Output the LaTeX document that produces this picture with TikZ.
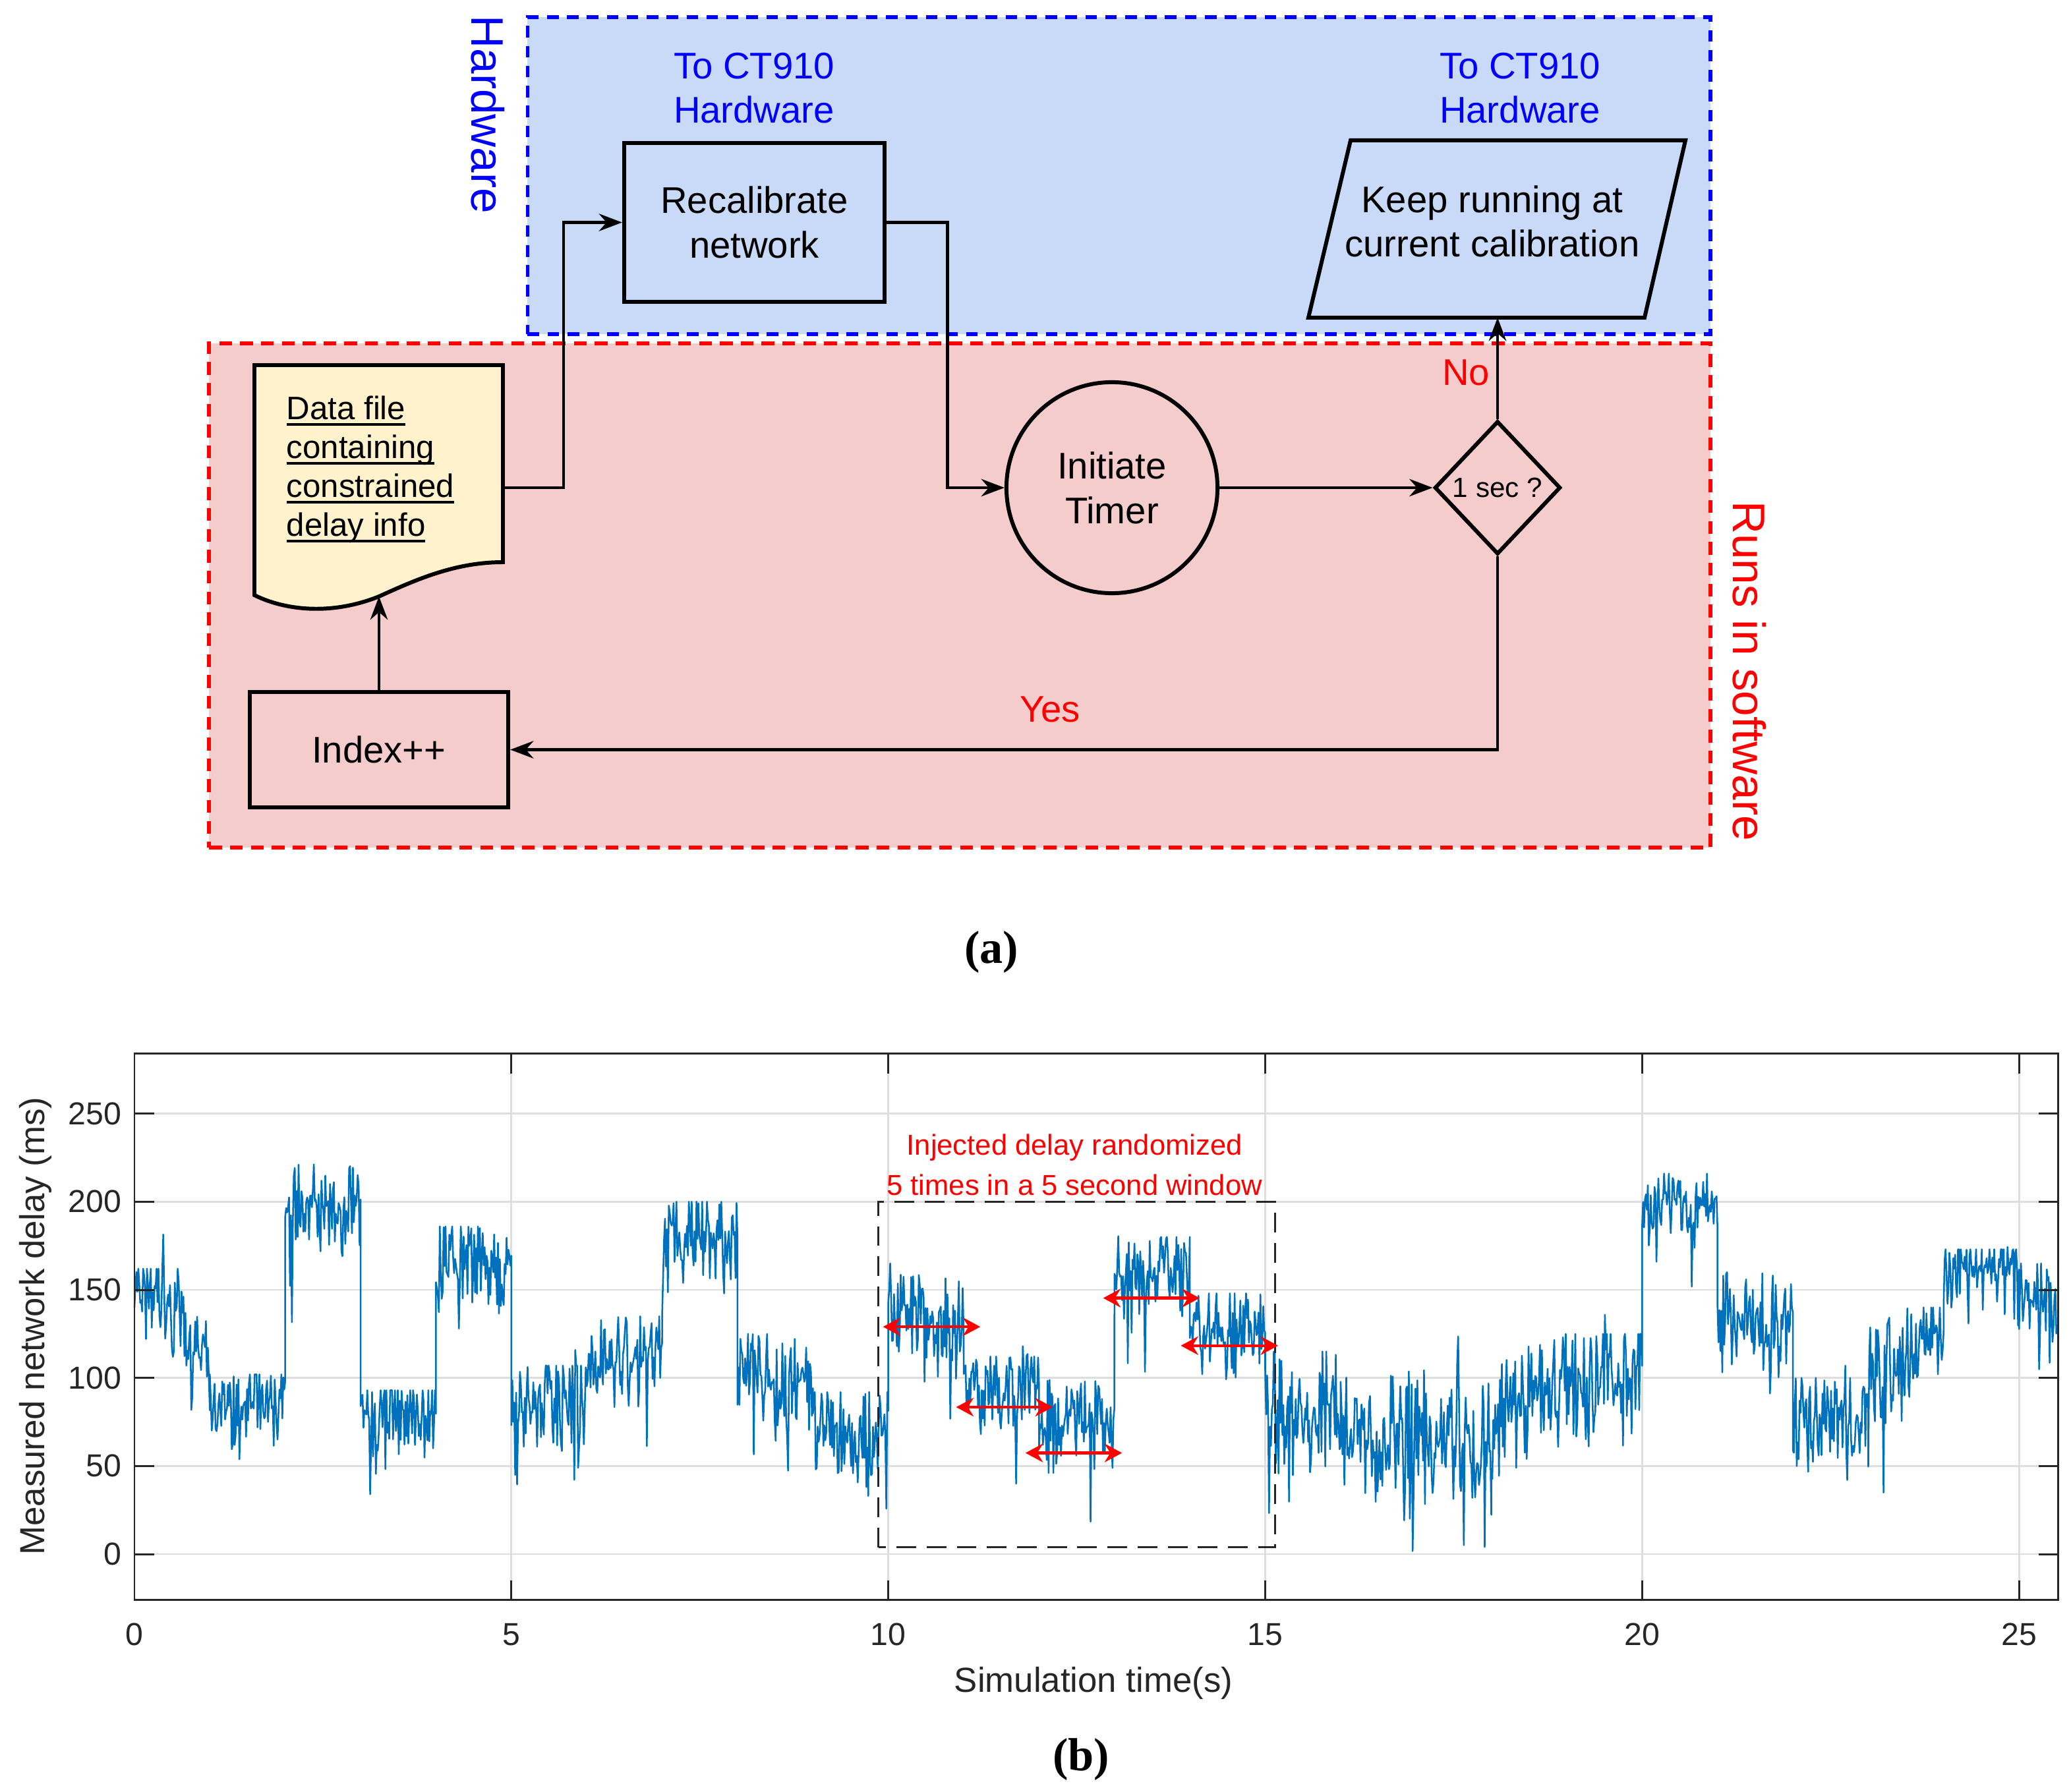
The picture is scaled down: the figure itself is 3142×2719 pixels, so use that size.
\documentclass[tikz,border=0pt]{standalone}
\usepackage{fontspec}
\setmainfont{Liberation Sans}
\newfontfamily\serifcap{Liberation Serif}
\usetikzlibrary{arrows.meta,shapes.geometric}
\definecolor{hwfill}{HTML}{C9DAF8}
\definecolor{swfill}{HTML}{F4CCCC}
\definecolor{docfill}{HTML}{FFF2CC}
\definecolor{hwblue}{HTML}{0000FF}
\definecolor{swred}{HTML}{FF0000}
\definecolor{gridgray}{RGB}{222,222,222}
\definecolor{axgray}{RGB}{38,38,38}
\definecolor{sigblue}{RGB}{0,114,189}
\newcommand\ulx[1]{\setbox0\hbox{#1}\rlap{\rule[-2.8pt]{\wd0}{1.2pt}}\box0}
\begin{document}
\begin{tikzpicture}[x=0.01cm,y=-0.01cm,
  every node/.style={inner sep=0pt},
  region/.style={line width=1.7pt},
  box/.style={draw=black,line width=1.7pt,align=center,font={\fontsize{16}{19.3}\selectfont}},
  lab/.style={align=center,font={\fontsize{16}{19.1}\selectfont}},
  conn/.style={line width=1.4pt,-{Stealth[length=10pt,width=7.5pt]}},
  gridline/.style={gridgray,line width=0.8pt},
  axisline/.style={axgray,line width=0.85pt},
  ticklab/.style={text=axgray,font={\fontsize{13.7}{16}\selectfont}},
  axlab/.style={text=axgray,font={\fontsize{15}{18}\selectfont}},
  redarrow/.style={swred,line width=1.2pt,{Stealth[length=7.5pt,width=8pt]}-{Stealth[length=7.5pt,width=8pt]}},
  sig/.style={sigblue,line width=0.72pt,line join=round}]
\useasboundingbox (0,0) rectangle (3142,2719);
% ---------- regions ----------
\node[region,draw=hwblue,fill=hwfill,dash pattern=on 5pt off 3.6pt,minimum width=17.93cm,minimum height=4.81cm] (hw) at (1697.5,266.5) {};
\node[region,draw=swred,fill=swfill,dash pattern=on 5.5pt off 3.5pt,minimum width=22.76cm,minimum height=7.65cm] (sw) at (1456,903.5) {};
\node[rotate=-90,text=hwblue,font={\fontsize{19.7}{23}\selectfont}] (hwlab) at (740,174) {Hardware};
\node[rotate=-90,text=swred,font={\fontsize{19.7}{23}\selectfont}] (swlab) at (2654,1018) {Runs in software};
% ---------- labels ----------
\node[lab,text=hwblue] (to1) at (1144,134) {To CT910\\Hardware};
\node[lab,text=hwblue] (to2) at (2306,134) {To CT910\\Hardware};
\node[lab,text=swred] (no) at (2224,565) {No};
\node[lab,text=swred] (yes) at (1593,1076) {Yes};
% ---------- flow nodes ----------
\node[box,fill=hwfill,minimum width=3.95cm,minimum height=2.41cm] (rec) at (1144.5,337.5) {Recalibrate\\network};
\draw[line width=1.7pt,fill=hwfill] (1985,482) -- (2049,213) -- (2557,213) -- (2495,482) -- cycle;
\node[lab] (keep) at (2264,336) {Keep running at\\current calibration};
\coordinate (keepin) at (2272,482);
\draw[line width=1.7pt,fill=docfill] (386,554) -- (763,554) -- (763,853) .. controls (690,853) and (630,880) .. (575,905) .. controls (500,935) and (430,925) .. (386,903) -- cycle;
\node[align=left,anchor=north west,font={\fontsize{14}{16.8}\selectfont}] (dft) at (434,600) {\ulx{Data file}\\\ulx{containing}\\\ulx{constrained}\\\ulx{delay info}};
\coordinate (dfout) at (763,740);
\coordinate (dfin) at (575,905);
\node[box,circle,fill=swfill,minimum size=3.2cm] (timer) at (1687,740) {Initiate\\Timer};
\node[box,diamond,fill=swfill,minimum width=1.91cm,minimum height=2.02cm,font={\fontsize{12}{14}\selectfont}] (dec) at (2272,740) {1 sec ?};
\node[box,fill=swfill,minimum width=3.92cm,minimum height=1.75cm] (idx) at (575,1137.5) {Index++};
% ---------- connectors ----------
\draw[conn] (dfout) -- ++(92,0) |- (rec.west);
\draw[conn] (rec.east) -- ++(92,0) |- (timer.west);
\draw[conn] (timer.east) -- (dec.west);
\draw[conn] (dec.north) -- (keepin);
\draw[conn] (dec.south) |- (idx.east);
\draw[conn] (idx.north) -- (dfin);
% ---------- captions ----------
\node[font={\serifcap\bfseries\fontsize{20}{24}\selectfont}] (capa) at (1504,1445) {(a)};
\node[font={\serifcap\bfseries\fontsize{20}{24}\selectfont}] (capb) at (1640,2670) {(b)};
% ---------- chart ----------
\node[axlab,anchor=base] (xlab) at (1659,2567) {Simulation time(s)};
\node[axlab,rotate=90] (ylab) at (54,2012) {Measured network delay (ms)};
\begin{scope}[shift={(204,2358)},x=1.143cm,y=0.02672cm]
  \foreach \t in {5,10,...,25} \draw[gridline] (\t,-26) -- (\t,284);
  \foreach \v in {0,50,...,250} \draw[gridline] (0,\v) -- (25.52,\v);
  \pgfmathsetseed{11}
  \draw[sig] (0,140) \foreach \a/\b/\m/\n/\s/\c/\N in {
    0/0.65/145/140/17/162/52, 0.65/1/128/118/16/145/28, 1/2/86/85/14/102/80,
    2/3/195/198/17/222/80, 3/4/78/78/14/93/80, 4/5/165/165/17/186/80,
    5/6/82/88/18/107/80, 6/7/100/118/17/135/80, 7/8/180/180/15/200/80,
    8/9/105/95/18/125/80, 9/10/72/68/17/92/80, 10/11/135/130/18/165/80,
    11/12/95/98/16/118/80, 12/13/74/72/18/100/80, 13/14/158/160/15/180/80,
    14/15/130/128/16/148/80, 15/16/85/80/21/115/80, 16/18/68/65/22/108/160,
    18/19/75/95/22/125/80, 19/20/95/108/20/125/80, 20/21/200/200/12/216/80,
    21/22/130/132/18/160/80, 22/23/80/78/18/100/80, 23/24/100/128/20/140/80,
    24/25/158/160/12/173/80, 25/25.52/148/140/17/165/42}
    { -- plot[domain=\a:\b,samples=\N] (\x,{min(\c,\m+(\n-\m)*(\x-\a)/(\b-\a)+\s*(rand+rand))-(rnd<0.09)*2.6*\s*rnd+(rnd<0.02)*1.3*\s*rnd}) };
  \draw[axgray,line width=0.9pt,dash pattern=on 8.5pt off 4.5pt] (9.87,3.9) rectangle (15.13,200);
  \draw[redarrow] (9.93,129) -- (11.22,129);
  \draw[redarrow] (10.9,83.4) -- (12.18,83.4);
  \draw[redarrow] (11.82,57.4) -- (13.1,57.4);
  \draw[redarrow] (12.85,145.3) -- (14.13,145.3);
  \draw[redarrow] (13.88,118.3) -- (15.17,118.3);
  \node[text=swred,align=center,font={\fontsize{12.4}{17.3}\selectfont}] (note) at (12.47,221) {Injected delay randomized\\5 times in a 5 second window};
  \draw[axisline] (0,-26) rectangle (25.52,284);
  \foreach \t in {0,5,...,25} {
    \draw[axisline] (\t,-26) -- (\t,-14.8);
    \draw[axisline] (\t,284) -- (\t,272.8);
    \node[ticklab] (xt\t) at (\t,-45.7) {\t};
  }
  \foreach \v in {0,50,...,250} {
    \draw[axisline] (0,\v) -- (0.26,\v);
    \draw[axisline] (25.52,\v) -- (25.26,\v);
    \node[ticklab,anchor=east] (yt\v) at (-0.17,\v) {\v};
  }
\end{scope}
\end{tikzpicture}
\end{document}
